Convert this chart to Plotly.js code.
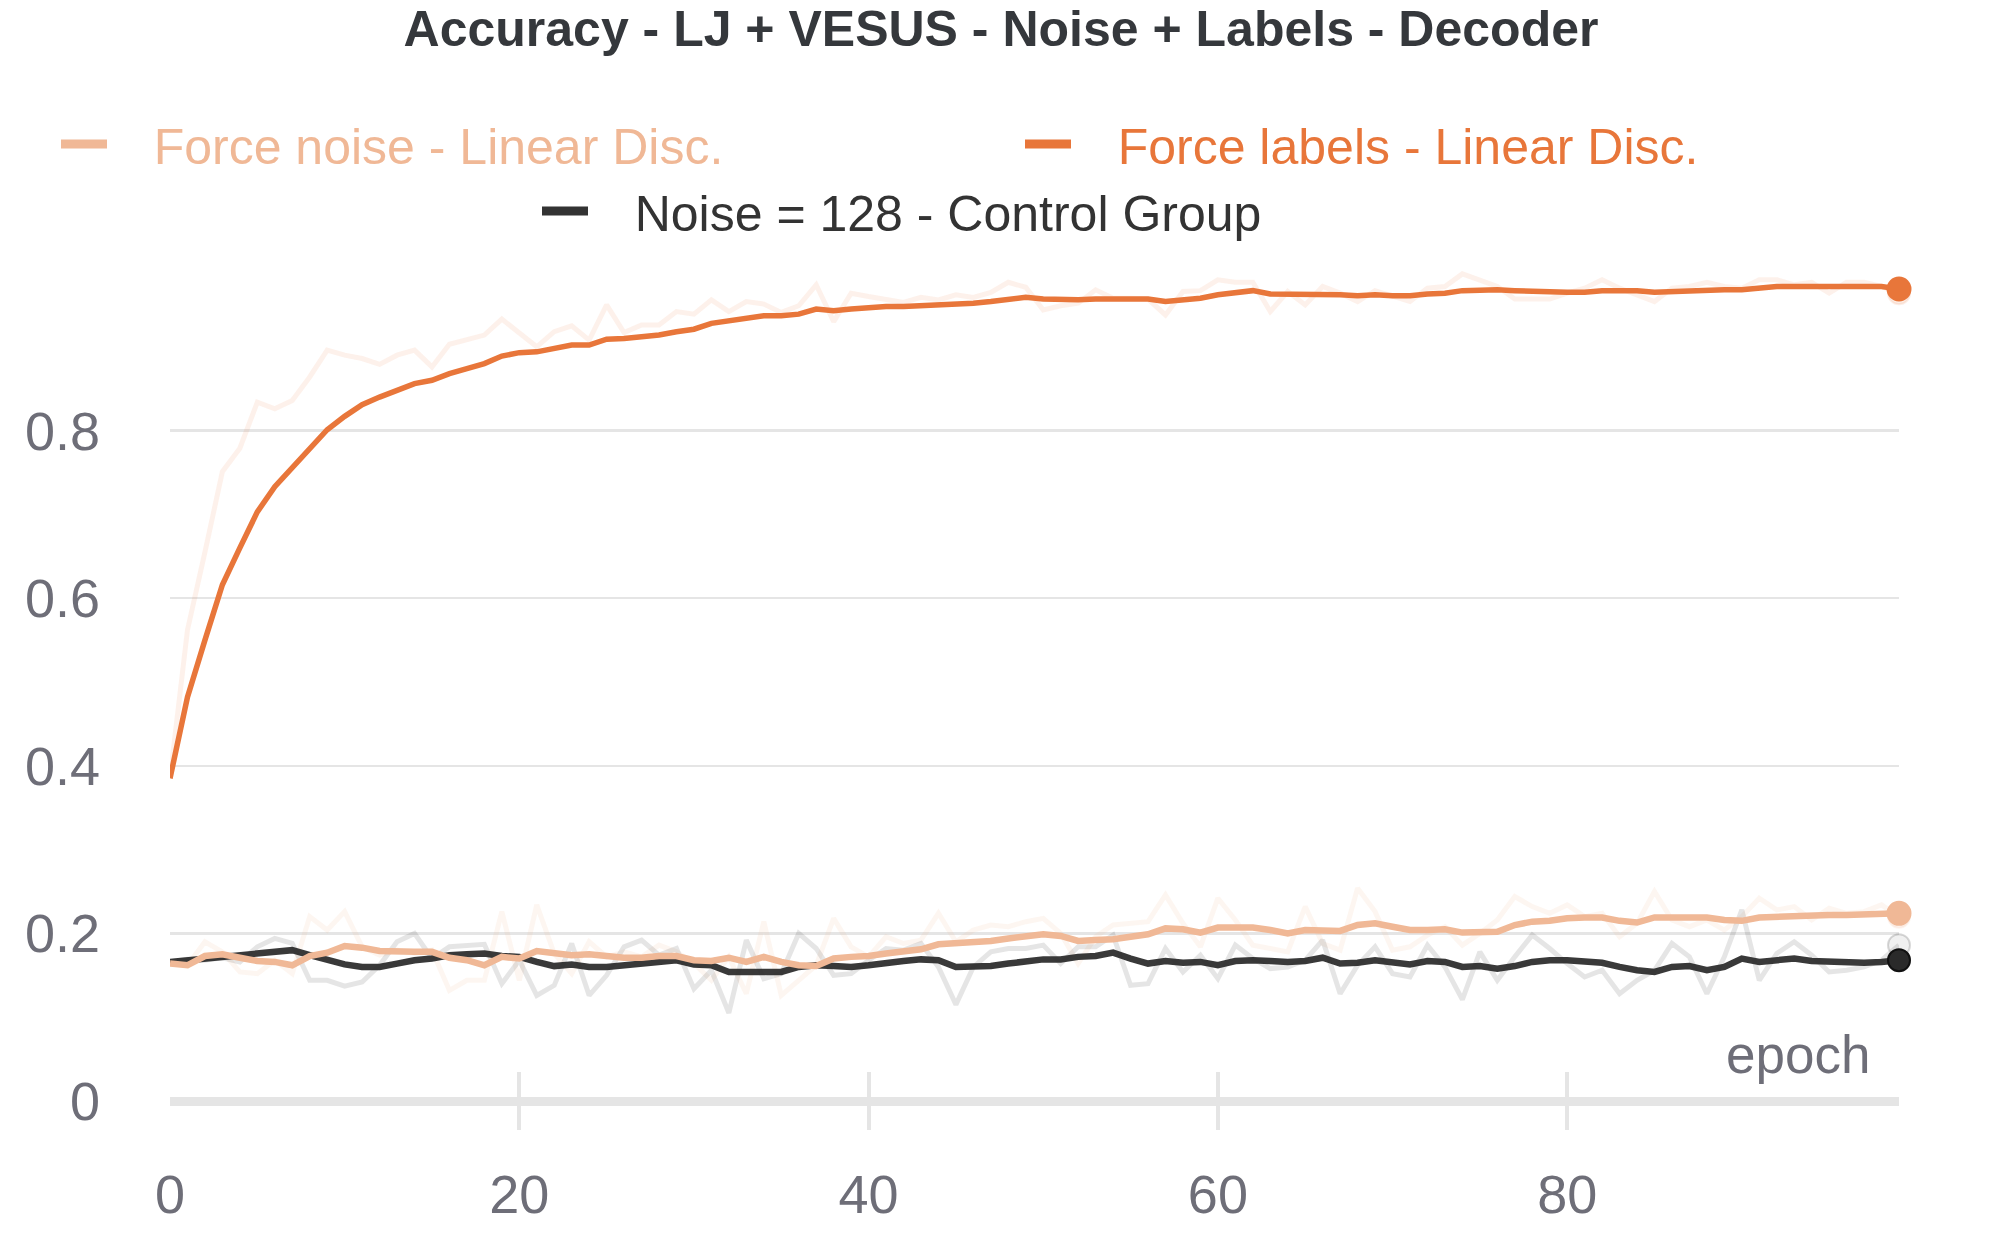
<!DOCTYPE html>
<html>
<head>
<meta charset="utf-8">
<script src="https://cdn.plot.ly/plotly-3.0.1.min.js"></script>
<style>
  html, body { margin: 0; padding: 0; background: #fff; }
  #myDiv { width: 2000px; height: 1250px; }
</style>
</head>
<body>
<div id="myDiv"></div>
<script>
// epoch index (x)
var epochs = [
  0,1,2,3,4,5,6,7,8,9, 10,11,12,13,14,15,16,17,18,19,
  20,21,22,23,24,25,26,27,28,29, 30,31,32,33,34,35,36,37,38,39,
  40,41,42,43,44,45,46,47,48,49, 50,51,52,53,54,55,56,57,58,59,
  60,61,62,63,64,65,66,67,68,69, 70,71,72,73,74,75,76,77,78,79,
  80,81,82,83,84,85,86,87,88,89, 90,91,92,93,94,95,96,97,98,99
];

// Force labels - Linear Disc. (smoothed / raw)
var labelsSmooth = [
  0.385,0.482,0.550,0.616,0.660,0.703,0.733,0.755,0.777,0.801,
  0.817,0.831,0.840,0.848,0.856,0.860,0.868,0.874,0.880,0.889,
  0.893,0.894,0.898,0.902,0.902,0.909,0.910,0.912,0.914,0.918,
  0.921,0.928,0.931,0.934,0.937,0.937,0.939,0.945,0.943,0.945,
  0.947,0.948,0.948,0.949,0.949,0.951,0.952,0.954,0.957,0.959,
  0.957,0.956,0.956,0.957,0.957,0.957,0.957,0.954,0.956,0.958,
  0.962,0.965,0.967,0.963,0.963,0.962,0.963,0.962,0.961,0.962,
  0.961,0.961,0.963,0.964,0.967,0.968,0.968,0.967,0.966,0.965,
  0.965,0.965,0.967,0.967,0.967,0.965,0.966,0.966,0.968,0.968,
  0.968,0.970,0.972,0.972,0.972,0.972,0.973,0.973,0.972,0.969
];
var labelsRaw = [
  0.385,0.562,0.655,0.751,0.779,0.834,0.826,0.836,0.864,0.896,
  0.890,0.886,0.879,0.890,0.896,0.876,0.903,0.908,0.914,0.933,
  0.917,0.900,0.918,0.925,0.908,0.950,0.917,0.926,0.926,0.942,
  0.939,0.956,0.942,0.954,0.951,0.941,0.949,0.974,0.930,0.964,
  0.960,0.956,0.953,0.959,0.956,0.962,0.959,0.965,0.977,0.971,
  0.944,0.949,0.952,0.968,0.958,0.958,0.957,0.938,0.966,0.967,
  0.980,0.977,0.977,0.942,0.966,0.950,0.972,0.964,0.954,0.967,
  0.960,0.954,0.970,0.972,0.987,0.979,0.972,0.957,0.957,0.957,
  0.964,0.970,0.980,0.970,0.962,0.954,0.970,0.972,0.977,0.972,
  0.970,0.980,0.980,0.974,0.977,0.964,0.977,0.977,0.972,0.964
];

// Force noise - Linear Disc.
var noiseSmooth = [
  0.164,0.162,0.173,0.175,0.171,0.167,0.166,0.162,0.173,0.177,
  0.185,0.183,0.179,0.178,0.178,0.178,0.171,0.168,0.162,0.172,
  0.170,0.179,0.177,0.174,0.175,0.173,0.171,0.171,0.173,0.173,
  0.168,0.167,0.171,0.166,0.172,0.166,0.162,0.161,0.170,0.172,
  0.173,0.176,0.178,0.181,0.187,0.188,0.189,0.191,0.194,0.196,
  0.199,0.197,0.191,0.192,0.193,0.196,0.199,0.206,0.205,0.201,
  0.207,0.207,0.207,0.204,0.200,0.204,0.203,0.203,0.210,0.212,
  0.208,0.204,0.204,0.205,0.201,0.201,0.202,0.210,0.214,0.215,
  0.218,0.219,0.219,0.215,0.213,0.219,0.219,0.218,0.219,0.216,
  0.215,0.219,0.220,0.220,0.221,0.222,0.222,0.223,0.224,0.224
];
var noiseRaw = [
  0.164,0.162,0.190,0.178,0.154,0.152,0.168,0.152,0.220,0.204,
  0.226,0.184,0.174,0.180,0.176,0.180,0.132,0.144,0.144,0.226,
  0.144,0.234,0.176,0.152,0.190,0.172,0.178,0.172,0.186,0.178,
  0.164,0.144,0.172,0.128,0.214,0.126,0.144,0.162,0.218,0.184,
  0.172,0.196,0.188,0.192,0.224,0.190,0.204,0.210,0.208,0.214,
  0.218,0.200,0.164,0.196,0.210,0.212,0.214,0.246,0.212,0.184,
  0.242,0.216,0.186,0.182,0.178,0.232,0.188,0.180,0.254,0.226,
  0.180,0.184,0.198,0.208,0.186,0.200,0.216,0.244,0.232,0.224,
  0.234,0.220,0.224,0.196,0.212,0.250,0.216,0.208,0.216,0.204,
  0.220,0.242,0.228,0.232,0.216,0.230,0.224,0.226,0.234,0.220
];

// Noise = 128 - Control Group
var controlSmooth = [
  0.166,0.168,0.170,0.172,0.173,0.175,0.178,0.180,0.174,0.168,
  0.163,0.160,0.160,0.164,0.168,0.170,0.174,0.175,0.176,0.173,
  0.172,0.166,0.161,0.163,0.160,0.160,0.162,0.165,0.167,0.168,
  0.163,0.162,0.154,0.154,0.154,0.154,0.160,0.162,0.161,0.160,
  0.162,0.165,0.167,0.169,0.168,0.160,0.160,0.161,0.164,0.166,
  0.169,0.169,0.172,0.173,0.177,0.170,0.164,0.167,0.165,0.166,
  0.162,0.167,0.168,0.167,0.166,0.167,0.171,0.164,0.165,0.168,
  0.166,0.163,0.167,0.166,0.160,0.161,0.158,0.161,0.166,0.168,
  0.168,0.167,0.165,0.160,0.156,0.154,0.160,0.161,0.156,0.160,
  0.170,0.166,0.168,0.170,0.167,0.166,0.165,0.165,0.166,0.168
];
var controlRaw = [
  0.166,0.169,0.168,0.171,0.166,0.184,0.194,0.188,0.144,0.144,
  0.137,0.142,0.162,0.190,0.200,0.170,0.184,0.186,0.187,0.140,
  0.168,0.126,0.138,0.188,0.126,0.150,0.184,0.192,0.174,0.182,
  0.134,0.156,0.105,0.192,0.146,0.152,0.200,0.182,0.150,0.152,
  0.168,0.182,0.180,0.188,0.160,0.115,0.160,0.178,0.182,0.182,
  0.186,0.164,0.184,0.184,0.198,0.138,0.140,0.182,0.154,0.174,
  0.146,0.186,0.170,0.158,0.160,0.168,0.192,0.128,0.162,0.184,
  0.152,0.148,0.186,0.160,0.121,0.178,0.144,0.172,0.198,0.182,
  0.164,0.148,0.156,0.128,0.144,0.156,0.188,0.172,0.128,0.172,
  0.228,0.144,0.176,0.190,0.174,0.154,0.156,0.160,0.168,0.186
];

var yTicks = [0, 0.2, 0.4, 0.6, 0.8];
var yTickText = ['0', '0.2', '0.4', '0.6', '0.8'];

var FONT = 'Liberation Sans, Arial, Helvetica, sans-serif';
var GREY = '#6e6e78';
var ORANGE = '#e8763a';
var PEACH = '#f0b896';
var DARK = '#333333';

function lineTrace(y, color, width)
{
  return {
    x: epochs,
    y: y,
    type: 'scatter',
    mode: 'lines',
    line: {color: color, width: width},
    showlegend: false,
    hoverinfo: 'skip',
    cliponaxis: false
  };
}

// dot on the last point of a run
function endDot(y, fill, size, edge)
{
  var last = y.length - 1;
  return {
    x: [epochs[last]],
    y: [y[last]],
    type: 'scatter',
    mode: 'markers',
    marker: {color: fill, size: size, line: {color: edge, width: 2}},
    showlegend: false,
    hoverinfo: 'skip',
    cliponaxis: false
  };
}

// legend-only entry (no data), so the legend swatch can be thicker
function legendEntry(name, color, legendId)
{
  return {
    x: [null],
    y: [null],
    type: 'scatter',
    mode: 'lines',
    line: {color: color, width: 9},
    name: '\u00a0\u00a0\u00a0' + name,
    legend: legendId
  };
}

var data = [
  lineTrace(noiseRaw, 'rgba(240,184,150,0.13)', 5),
  lineTrace(controlRaw, 'rgba(0,0,0,0.1)', 5),
  lineTrace(labelsRaw, 'rgba(232,118,58,0.1)', 5),
  endDot(noiseRaw, 'rgba(240,184,150,0.15)', 22, 'rgba(240,184,150,0.15)'),
  endDot(controlRaw, 'rgba(0,0,0,0.06)', 22, 'rgba(0,0,0,0.15)'),
  endDot(labelsRaw, 'rgba(232,118,58,0.12)', 22, 'rgba(232,118,58,0.12)'),
  lineTrace(controlSmooth, 'rgba(40,40,40,0.92)', 6.5),
  lineTrace(noiseSmooth, PEACH, 6.5),
  lineTrace(labelsSmooth, ORANGE, 5.5),
  endDot(controlSmooth, '#2a2a2a', 22, '#111111'),
  endDot(noiseSmooth, PEACH, 23, PEACH),
  endDot(labelsSmooth, ORANGE, 23, ORANGE),
  legendEntry('Force noise - Linear Disc.', PEACH, 'legend'),
  legendEntry('Force labels - Linear Disc.', ORANGE, 'legend2'),
  legendEntry('Noise = 128 - Control Group', DARK, 'legend3')
];

function legendBox(x, y, color)
{
  return {
    xref: 'container', yref: 'container',
    x: x, y: y, xanchor: 'left', yanchor: 'middle',
    orientation: 'h',
    bgcolor: 'rgba(0,0,0,0)',
    borderwidth: 0,
    itemwidth: 46,
    itemclick: false,
    font: {family: FONT, size: 50, color: color}
  };
}

var layout = {
  width: 2000,
  height: 1250,
  paper_bgcolor: '#ffffff',
  plot_bgcolor: '#ffffff',
  margin: {l: 170, r: 101, t: 263, b: 120},
  font: {family: FONT, size: 50, color: GREY},
  title: {
    text: '<b>Accuracy - LJ + VESUS - Noise + Labels - Decoder</b>',
    font: {family: FONT, size: 50, color: '#35383c'},
    xref: 'container', yref: 'container',
    x: 0.5005, xanchor: 'center',
    y: 1 - 28 / 1250, yanchor: 'middle'
  },
  showlegend: true,
  legend: legendBox(0.028, 1 - 144 / 1250, PEACH),
  legend2: legendBox(0.51, 1 - 144 / 1250, ORANGE),
  legend3: legendBox(0.2685, 1 - 211 / 1250, DARK),
  xaxis: {
    range: [0, 99],
    dtick: 20,
    tick0: 0,
    showgrid: false,
    zeroline: false,
    showline: false,
    ticks: 'inside',
    ticklen: 58,
    tickwidth: 4,
    tickcolor: '#e5e5e5',
    ticklabelstandoff: 28,
    tickfont: {family: FONT, size: 54, color: GREY}
  },
  yaxis: {
    range: [-0.0346, 1.0],
    tickvals: yTicks,
    ticktext: yTickText,
    ticks: '',
    showline: false,
    showgrid: true,
    gridcolor: '#e5e5e5',
    gridwidth: 2.5,
    zeroline: true,
    zerolinecolor: '#e5e5e5',
    zerolinewidth: 9,
    ticklabelstandoff: 69,
    tickfont: {family: FONT, size: 54, color: GREY}
  },
  annotations: [{
    text: 'epoch',
    xref: 'paper', yref: 'y',
    x: 0.9844, y: 0.056,
    xanchor: 'right', yanchor: 'middle',
    showarrow: false,
    font: {family: FONT, size: 53, color: GREY}
  }]
};

Plotly.newPlot('myDiv', data, layout, {staticPlot: true, displayModeBar: false});
</script>
</body>
</html>
